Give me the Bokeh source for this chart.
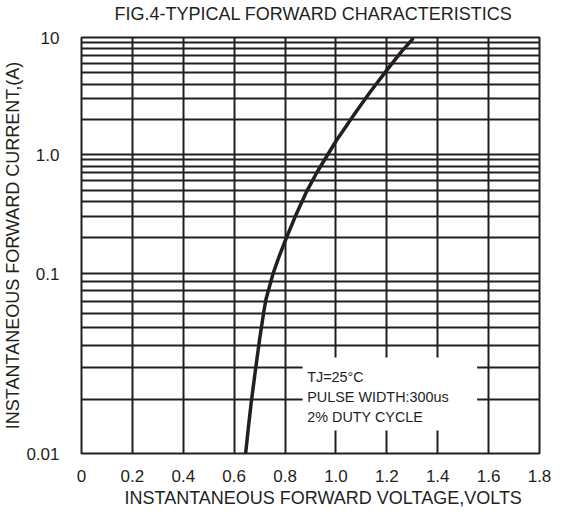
import numpy as np
from bokeh.plotting import figure
from bokeh.layouts import column
from bokeh.models import FixedTicker, Title, ColumnDataSource
from bokeh.core.properties import value
from bokeh.embed import file_html
from bokeh.resources import INLINE

# ---- data ----
voltage = [0.645, 0.656, 0.667, 0.684, 0.700, 0.716, 0.725, 0.753, 0.775, 0.803,
           0.844, 0.883, 0.925, 0.968, 1.001, 1.077, 1.133, 1.203, 1.255, 1.301]
current = [0.010, 0.014, 0.0192, 0.0294, 0.0431, 0.0607, 0.072, 0.100, 0.136, 0.194,
           0.315, 0.480, 0.706, 1.00, 1.31, 2.29, 3.39, 5.36, 7.45, 9.67]

x_ticks = [0, 0.2, 0.4, 0.6, 0.8, 1.0, 1.2, 1.4, 1.6, 1.8]
x_tick_labels = ["0", "0.2", "0.4", "0.6", "0.8", "1.0", "1.2", "1.4", "1.6", "1.8"]
y_major = [0.01, 0.1, 1.0, 10.0]
y_tick_labels = ["0.01", "0.1", "1.0", "10"]
y_minor = [k * 10.0 ** d for d in (-2, -1, 0) for k in range(2, 10)]

title_text = "FIG.4-TYPICAL FORWARD CHARACTERISTICS"
x_title = "INSTANTANEOUS FORWARD VOLTAGE,VOLTS"
y_title = "INSTANTANEOUS FORWARD CURRENT,(A)"
note_lines = ["TJ=25°C", "PULSE WIDTH:300us", "2% DUTY CYCLE"]

# ---- graph-paper scale: the printed chart gives each decade its own height ----
DECADE_EDGES = [-2, -1, 0, 1]
DECADE_POS = [0, 180, 299, 416]


def ymap(v):
    return np.interp(np.log10(np.asarray(v, dtype=float)), DECADE_EDGES, DECADE_POS)


INK = "#231f20"
FONT = "Liberation Sans"
W = 553
HEAD_H = 26
LEFT, RIGHT = 75, 14
FRAME_W = W - LEFT - RIGHT

# ---- header strip carrying the chart title (frame aligned with the chart) ----
head = figure(width=W, height=HEAD_H, x_range=(0, FRAME_W), y_range=(0, HEAD_H),
              output_backend="svg", toolbar_location=None,
              x_axis_type=None, y_axis_type=None,
              min_border_left=LEFT, min_border_right=RIGHT,
              min_border_top=0, min_border_bottom=0)
head.outline_line_color = None
head.grid.visible = False
head.text(x=[FRAME_W / 2 + 3], y=[12.5], text=[title_text], text_font=value(FONT),
          text_font_size="18px", text_color=INK, text_align="center",
          text_baseline="alphabetic")

# ---- main chart ----
p = figure(width=W, height=508 - HEAD_H, x_range=(0, 1.8), y_range=(0, 416),
           output_backend="svg", toolbar_location=None,
           min_border_left=LEFT, min_border_right=RIGHT,
           min_border_top=37 - HEAD_H, min_border_bottom=55)

p.background_fill_color = "white"
p.border_fill_color = "white"
p.outline_line_color = INK
p.outline_line_width = 2

p.xaxis.ticker = FixedTicker(ticks=x_ticks)
p.xaxis.major_label_overrides = {t: l for t, l in zip(x_ticks, x_tick_labels)}
y_major_pos = [float(v) for v in ymap(y_major)]
y_minor_pos = [float(v) for v in ymap(y_minor)]
p.yaxis.ticker = FixedTicker(ticks=y_major_pos, minor_ticks=y_minor_pos)
p.yaxis.major_label_overrides = {t: l for t, l in zip(y_major_pos, y_tick_labels)}
p.yaxis.axis_label = y_title
p.yaxis.axis_label_standoff = 0
p.yaxis.major_label_standoff = 16
p.xaxis.major_label_standoff = 10

for ax in (p.xaxis, p.yaxis):
    ax.axis_line_color = None
    ax.major_tick_line_color = None
    ax.minor_tick_line_color = None
    ax.major_label_text_font = FONT
    ax.major_label_text_font_size = "17px"
    ax.major_label_text_color = INK
    ax.axis_label_text_font = FONT
    ax.axis_label_text_font_size = "18px"
    ax.axis_label_text_font_style = "normal"
    ax.axis_label_text_color = INK

# x-axis title, printed a little right of centre
p.add_layout(Title(text=x_title, align="left", offset=43, standoff=2,
                   vertical_align="bottom", text_font=FONT, text_font_size="18px",
                   text_font_style="normal", text_color=INK), "below")

p.xgrid.grid_line_color = INK
p.xgrid.grid_line_width = 2
p.ygrid.grid_line_color = INK
p.ygrid.grid_line_width = 2
p.ygrid.minor_grid_line_color = INK
p.ygrid.minor_grid_line_width = 1.8

# note box (white panel that interrupts the grid)
p.quad(left=0.869, right=1.555, bottom=23, top=96, fill_color="white", line_color=None)
p.text(x=[0.887] * len(note_lines), y=[77, 57, 37], text=note_lines,
       text_font=value(FONT), text_font_size="14.4px", text_color=INK,
       text_baseline="alphabetic", text_align="left")

# the forward characteristic
src = ColumnDataSource(data=dict(v=voltage, y=ymap(current)))
p.line("v", "y", source=src, line_color=INK, line_width=3.5, line_join="round", line_cap="round")

layout = column(head, p, spacing=0)
open("out.html", "w").write(file_html(layout, INLINE))
